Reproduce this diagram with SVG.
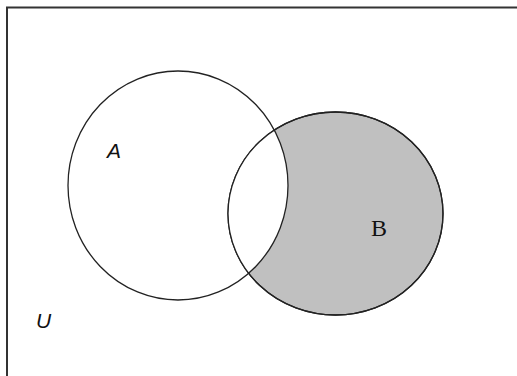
<svg xmlns="http://www.w3.org/2000/svg" width="517" height="376" viewBox="0 0 517 376">
<defs>
<style>
.c{stroke:#222;stroke-width:1.3}
.lab{font-family:"Liberation Sans",Arial,sans-serif;font-style:italic;font-size:21px;fill:#111}
.labB{font-family:"Liberation Serif","Times New Roman",serif;font-size:24px;fill:#111}
</style>
<clipPath id="clipB"><ellipse cx="335.5" cy="213.5" rx="107.5" ry="101.5"/></clipPath>
</defs>
<rect width="517" height="376" fill="#fff"/>
<rect x="7" y="7.5" width="520" height="380" fill="none" stroke="#333" stroke-width="2"/>
<g id="B">
<ellipse class="c" cx="335.5" cy="213.5" rx="107.5" ry="101.5" fill="#c0c0c0"/>
</g>
<g id="A">
<ellipse cx="178" cy="185.5" rx="110" ry="114.5" fill="#fff" clip-path="url(#clipB)"/>
<ellipse class="c" cx="335.5" cy="213.5" rx="107.5" ry="101.5" fill="none"/>
<ellipse class="c" cx="178" cy="185.5" rx="110" ry="114.5" fill="none"/>
</g>
<text class="lab" x="107" y="158">A</text>
<text class="labB" x="371" y="236">B</text>
<text class="lab" x="36" y="328">U</text>
</svg>
